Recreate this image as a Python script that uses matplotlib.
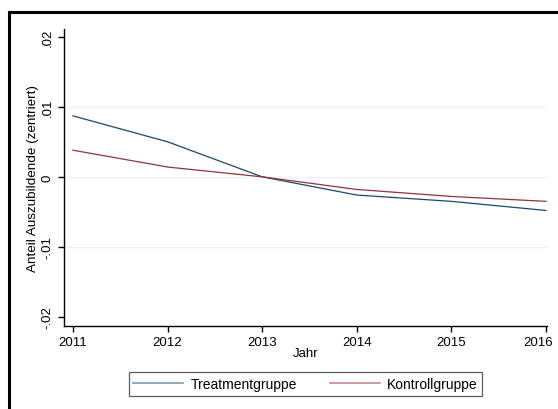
import matplotlib
matplotlib.use("Agg")
import matplotlib.pyplot as plt
from matplotlib.patches import Rectangle
from matplotlib.transforms import ScaledTranslation

plt.rcParams['font.family'] = ['Liberation Sans', 'DejaVu Sans']

years = [2011, 2012, 2013, 2014, 2015, 2016]
treatment = [0.0087, 0.0050, 0.0000, -0.0026, -0.0035, -0.0048]
control = [0.0038, 0.0014, 0.0000, -0.0018, -0.0028, -0.0035]
y_ticks = [-0.02, -0.01, 0.0, 0.01, 0.02]
y_tick_labels = ['-.02', '-.01', '0', '.01', '.02']
grid_levels = [-0.01, 0.0, 0.01]

W, H = 558, 410
fig = plt.figure(figsize=(W / 100, H / 100), dpi=100)
fig.patch.set_facecolor('white')

# outer frame around the whole graph region
fig.patches.append(Rectangle((9 / W, -0.05), 1.1, 1 - 13 / H + 0.05,
                             transform=fig.transFigure, fill=False,
                             edgecolor='black', linewidth=2.2, zorder=0))

ax = fig.add_axes([64 / W, 1 - 327 / H, (547 - 64) / W, (327 - 30) / H])
ax.set_facecolor('white')

for g in grid_levels:
    ax.axhline(g, color='#edf1f4', linewidth=1.0, zorder=1)

ax.plot(years, treatment, color='#1a476f', linewidth=0.9, label='Treatmentgruppe', zorder=3)
ax.plot(years, control, color='#90353b', linewidth=0.9, label='Kontrollgruppe', zorder=3)

ax.set_xlim(2011 - 9 / 94.6, 2016 + 1 / 94.6)
ax.set_ylim(-0.02129, 0.0211)

ax.set_xticks(years)
ax.set_xticklabels([str(y) for y in years])
ax.set_yticks(y_ticks)
ax.set_yticklabels(y_tick_labels, rotation=90, va='center')

for s in ['top', 'right']:
    ax.spines[s].set_visible(False)
for s in ['left', 'bottom']:
    ax.spines[s].set_color('black')
    ax.spines[s].set_linewidth(1.0)

ax.tick_params(axis='both', direction='out', length=4.5, width=1.0,
               colors='black', labelsize=9.5, pad=3)

# keep the last year label inside the graph region
last = ax.get_xticklabels()[-1]
last.set_transform(last.get_transform() + ScaledTranslation(-8 / 100, 0, fig.dpi_scale_trans))

ax.set_xlabel('Jahr', fontsize=9.5, labelpad=-1)
ax.set_ylabel('Anteil Auszubildende (zentriert)', fontsize=9.7, labelpad=2)

leg = fig.legend(loc='center', bbox_to_anchor=((127 + 484) / 2 / W, 1 - 385 / H),
                 ncol=2, frameon=True, fancybox=False, fontsize=10,
                 handlelength=3.6, columnspacing=2.4, handletextpad=0.5,
                 borderpad=0.35)
leg.get_frame().set_edgecolor('#333333')
leg.get_frame().set_linewidth(0.9)
for line, c in zip(leg.get_lines(), ['#7d9ab0', '#c08a8d']):
    line.set_color(c)
    line.set_linewidth(1.2)

fig.savefig('out.png', dpi=100, facecolor='white')
